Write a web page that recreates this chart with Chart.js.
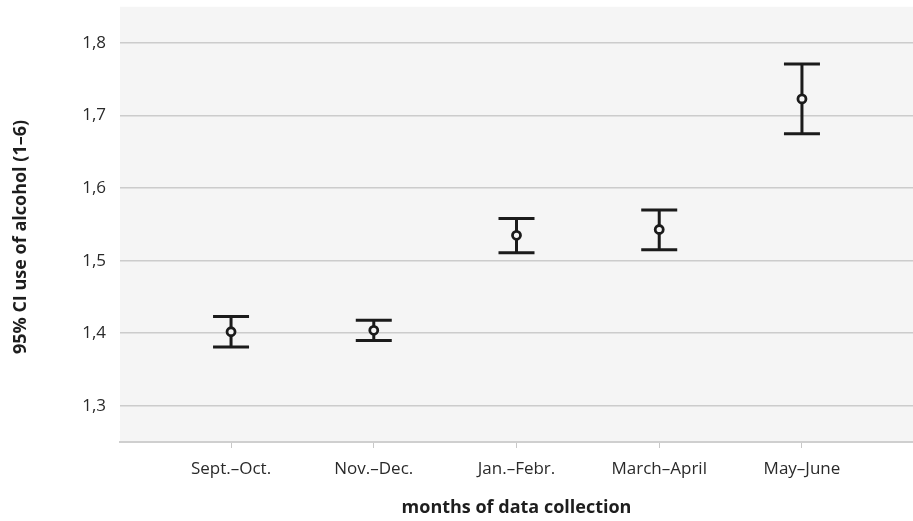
<!DOCTYPE html>
<html>
<head>
<meta charset="utf-8">
<script src="https://cdn.jsdelivr.net/npm/chart.js@4.4.1/dist/chart.umd.min.js"></script>
<style>
  html, body { margin: 0; padding: 0; background: #ffffff; }
  #wrap { width: 913px; height: 521px; position: relative; }
</style>
</head>
<body>
<div id="wrap"><canvas id="c" width="913" height="521"></canvas></div>
<script>
// Survey periods and 95% confidence intervals of alcohol use (scale 1–6)
const categories = ['Sept.–Oct.', 'Nov.–Dec.', 'Jan.–Febr.', 'March–April', 'May–June'];
const means = [1.402, 1.404, 1.535, 1.543, 1.723];
const lowerCI = [1.381, 1.390, 1.511, 1.515, 1.675];
const upperCI = [1.423, 1.418, 1.558, 1.570, 1.771];
const yTicks = [1.3, 1.4, 1.5, 1.6, 1.7, 1.8];
const yTitle = '95% CI use of alcohol (1–6)';
const xTitle = 'months of data collection';

const FONT = "'Open Sans', 'Noto Sans', sans-serif";
const PLOT_BG = '#f5f5f5';
const INK = '#1b1b1b';

// Let the plotting panel run to the right edge of the canvas
const fullWidthPlugin = {
  id: 'fullWidth',
  afterLayout(chart) {
    const a = chart.chartArea;
    const right = chart.width;
    if (a.right !== right) {
      a.right = right;
      a.width = a.right - a.left;
      const x = chart.scales.x;
      x.right = right;
      x.width = x.right - x.left;
      x.configure();
    }
  }
};

// Grey panel behind the plotting area
const panelPlugin = {
  id: 'panel',
  beforeDraw(chart) {
    const { ctx, chartArea: a } = chart;
    ctx.save();
    ctx.fillStyle = PLOT_BG;
    ctx.fillRect(a.left, a.top, a.right - a.left, a.bottom - a.top);
    ctx.restore();
  }
};

// Rotated title of the value axis
const yTitlePlugin = {
  id: 'yTitle',
  afterDraw(chart) {
    const { ctx } = chart;
    ctx.save();
    ctx.translate(21, 237);
    ctx.rotate(-Math.PI / 2);
    ctx.font = "bold 18px " + FONT;
    ctx.fillStyle = '#1e1e1e';
    ctx.textAlign = 'center';
    ctx.textBaseline = 'middle';
    ctx.fillText(yTitle, 0, 0);
    ctx.restore();
  }
};

// Whiskers for each confidence interval, placed through the chart scales
const errorBarPlugin = {
  id: 'errorBars',
  beforeDatasetsDraw(chart) {
    const { ctx, scales: { x, y } } = chart;
    const cap = 18;
    ctx.save();
    ctx.strokeStyle = INK;
    ctx.lineWidth = 3;
    ctx.lineCap = 'butt';
    categories.forEach((_, i) => {
      const px = x.getPixelForValue(i);
      const yLo = y.getPixelForValue(lowerCI[i]);
      const yHi = y.getPixelForValue(upperCI[i]);
      ctx.beginPath();
      ctx.moveTo(px, yLo);
      ctx.lineTo(px, yHi);
      ctx.moveTo(px - cap, yHi);
      ctx.lineTo(px + cap, yHi);
      ctx.moveTo(px - cap, yLo);
      ctx.lineTo(px + cap, yLo);
      ctx.stroke();
    });
    ctx.restore();
  }
};

new Chart(document.getElementById('c'), {
  type: 'scatter',
  data: {
    datasets: [{
      data: means.map((v, i) => ({ x: i, y: v })),
      pointStyle: 'circle',
      pointRadius: 4,
      pointBorderWidth: 2.8,
      pointBorderColor: INK,
      pointBackgroundColor: PLOT_BG,
      pointHoverRadius: 4
    }]
  },
  options: {
    responsive: false,
    animation: false,
    devicePixelRatio: 1,
    layout: { padding: { top: 6, right: 0, left: 0, bottom: 0 } },
    plugins: {
      legend: { display: false },
      tooltip: { enabled: false }
    },
    scales: {
      x: {
        type: 'linear',
        min: -0.778,
        max: 4.778,
        afterBuildTicks(axis) { axis.ticks = categories.map((_, i) => ({ value: i })); },
        afterFit(axis) {
          axis.height = 79;
          axis.paddingLeft = 0;
          axis.paddingRight = 0;
        },
        ticks: {
          callback: (v) => categories[v],
          color: '#2a2a2a',
          font: { family: FONT, size: 17 },
          padding: 11,
          maxRotation: 0,
          autoSkip: false
        },
        grid: {
          drawOnChartArea: false,
          drawTicks: true,
          tickLength: 6,
          color: '#c8c8c8',
          lineWidth: 1
        },
        border: { display: true, color: '#cfcfcf', width: 2 },
        title: {
          display: true,
          text: xTitle,
          color: '#1e1e1e',
          font: { family: FONT, size: 18, weight: 'bold' },
          padding: { top: 10, bottom: 2 }
        }
      },
      y: {
        type: 'linear',
        min: 1.25,
        max: 1.85,
        afterBuildTicks(axis) { axis.ticks = yTicks.map(v => ({ value: v })); },
        afterFit(axis) {
          axis.width = 120;
          axis.paddingTop = 0;
          axis.paddingBottom = 0;
        },
        ticks: {
          callback: (v) => v.toFixed(1).replace('.', ','),
          color: '#2a2a2a',
          font: { family: FONT, size: 17 },
          padding: 14
        },
        grid: {
          drawTicks: false,
          color: '#cccccc',
          lineWidth: 1.5
        },
        border: { display: false },
        title: { display: false }
      }
    }
  },
  plugins: [fullWidthPlugin, panelPlugin, errorBarPlugin, yTitlePlugin]
});
</script>
</body>
</html>
